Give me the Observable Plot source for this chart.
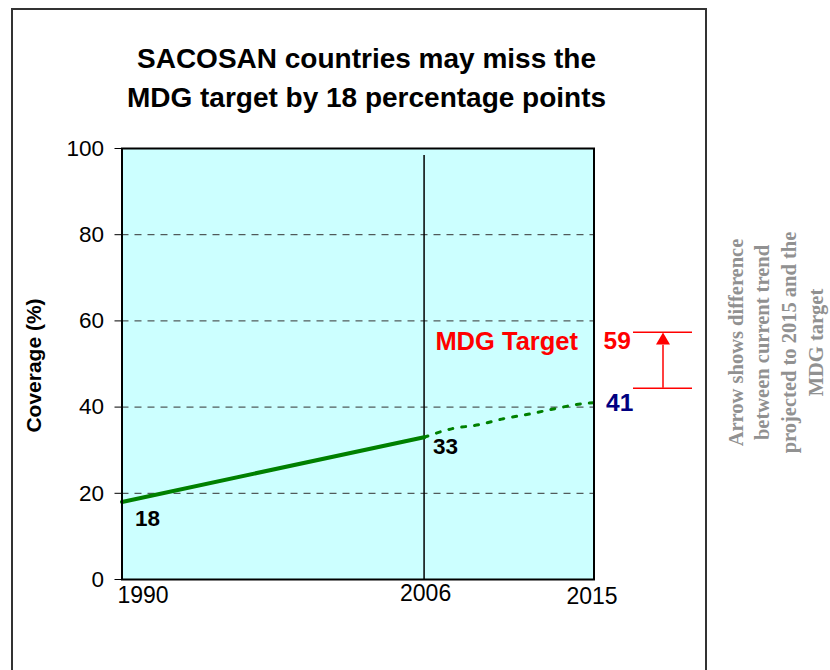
<!DOCTYPE html>
<html><head><meta charset="utf-8">
<script src="https://cdn.jsdelivr.net/npm/d3@7"></script>
<script src="https://cdn.jsdelivr.net/npm/@observablehq/plot@0.6"></script>
<style>
body{margin:0;background:#fff;overflow:hidden}
#wrap{position:relative;width:830px;height:670px;overflow:hidden}
#box{position:absolute;left:11px;top:8px;width:696px;height:700px;border:2px solid #333;box-sizing:border-box}
#title{position:absolute;left:0;top:39px;width:733px;text-align:center;font:bold 28px "Liberation Sans",Arial,sans-serif;line-height:39px;color:#000}
#chart{position:absolute;left:0;top:0}
</style></head><body>
<div id="wrap"><div id="box"></div><div id="title"></div><div id="chart"></div></div>
<script>
const titleLines = ["SACOSAN countries may miss the", "MDG target by 18 percentage points"];
const trendYears = [1990, 2006];
const trendValues = [18, 33];
const projYears = [2006, 2007.5, 2008.9, 2010.2, 2011.6, 2013, 2014.4, 2015];
const projValues = [33, 35, 35.9, 37.3, 38.4, 39.7, 40.8, 41];
const xTicks = [1990, 2006, 2015];
const yTicks = [0, 20, 40, 60, 80, 100];
const gridValues = [20, 40, 60, 80];
const currentYear = 2006;
const targetYear = 2015;
const mdgTarget = 59;
const projected2015 = 41;
const yLabel = "Coverage (%)";
const targetLabel = "MDG Target";
const noteLines = ["Arrow shows difference", "between current trend", "projected to 2015 and the", "MDG target"];

document.getElementById("title").innerHTML = titleLines.join("<br>");

const trend = trendYears.map((year, i) => ({year, value: trendValues[i]}));
const proj = projYears.map((year, i) => ({year, value: projValues[i]}));
const sans = '"Liberation Sans", Arial, sans-serif';
const bold = {fontWeight: "bold", fontFamily: sans};

const chart = Plot.plot({
  width: 830, height: 670,
  marginLeft: 121.5, marginRight: 236.5, marginTop: 148, marginBottom: 91,
  style: {fontFamily: sans, fontSize: "22.5px", color: "#000", background: "transparent", overflow: "visible"},
  x: {domain: [1990, 2015], axis: null},
  y: {domain: [0, 100], ticks: yTicks, tickSize: 7, tickPadding: 11, label: null, tickFormat: d => String(d)},
  marks: [
    Plot.frame({fill: "#ccffff"}),
    Plot.ruleY(gridValues, {stroke: "#333", strokeDasharray: "7,6", strokeWidth: 1}),
    Plot.ruleX([currentYear], {insetTop: 7, stroke: "#000", strokeWidth: 1.5}),
    Plot.line(trend, {x: "year", y: "value", stroke: "#008000", strokeWidth: 4}),
    Plot.line(proj, {x: "year", y: "value", stroke: "#008000", strokeWidth: 3, strokeDasharray: "4,9", curve: "monotone-x"}),
    Plot.frame({stroke: "#000", strokeWidth: 2}),
    // x tick labels
    Plot.text(xTicks.slice(0, 1), {x: d => d, text: d => String(d), frameAnchor: "bottom", lineAnchor: "top", textAnchor: "start", dx: -4.5, dy: 7, fontSize: 23}),
    Plot.text(xTicks.slice(1, 2), {x: d => d, text: d => String(d), frameAnchor: "bottom", lineAnchor: "top", textAnchor: "middle", dx: 1.5, dy: 5, fontSize: 23}),
    Plot.text(xTicks.slice(2, 3), {x: d => d, text: d => String(d), frameAnchor: "bottom", lineAnchor: "top", textAnchor: "middle", dx: -2, dy: 8, fontSize: 23}),
    // y label
    Plot.text([yLabel], {text: d => d, frameAnchor: "left", textAnchor: "middle", rotate: -90, dx: -87.5, dy: 1.5, fontSize: 21, ...bold}),
    // data labels
    Plot.text([trend[0]], {x: "year", y: "value", text: d => String(d.value), dx: 25.5, dy: 16.6, fontSize: 22.5, ...bold}),
    Plot.text([trend[1]], {x: "year", y: "value", text: d => String(d.value), dx: 21.5, dy: 9.5, fontSize: 22.5, ...bold}),
    Plot.text([mdgTarget], {x: () => targetYear, y: d => d, text: () => targetLabel, textAnchor: "end", dx: -16, dy: 17, fill: "#ff0000", fontSize: 25.5, ...bold}),
    Plot.text([mdgTarget], {x: () => targetYear, y: d => d, text: d => String(d), textAnchor: "start", dx: 9.5, dy: 15.5, fill: "#ff0000", fontSize: 24.5, ...bold}),
    Plot.text([projected2015], {x: () => targetYear, y: d => d, text: d => String(d), textAnchor: "start", dx: 12, dy: 0, fill: "#000080", fontSize: 24.5, ...bold}),
    // arrow
    Plot.ruleY([mdgTarget], {x1: () => targetYear, x2: () => targetYear, insetLeft: 39.5, insetRight: -98.5, dy: 7, stroke: "#ff0000", strokeWidth: 1.5}),
    Plot.ruleY([projected2015], {x1: () => targetYear, x2: () => targetYear, insetLeft: 39.5, insetRight: -98.5, dy: -14.6, stroke: "#ff0000", strokeWidth: 1.5}),
    Plot.ruleX([targetYear], {y1: () => mdgTarget, y2: () => projected2015, insetTop: 20, insetBottom: 14.6, dx: 69, stroke: "#ff0000", strokeWidth: 1.5}),
    Plot.dot([mdgTarget], {x: () => targetYear, y: d => d, symbol: "triangle", r: 5.2, fill: "#ff0000", stroke: "none", dx: 69, dy: 15.3}),
    // note
    Plot.text([noteLines.join("\n")], {text: d => d, frameAnchor: "right", textAnchor: "middle", lineAnchor: "middle", rotate: -90, dx: 180, dy: -21.5, lineHeight: 1.3, fontSize: 20.5, fontWeight: "bold", fontFamily: '"Liberation Serif", "Times New Roman", serif', fill: "#919191"})
  ]
});
document.getElementById("chart").appendChild(chart);
</script>
</body></html>
